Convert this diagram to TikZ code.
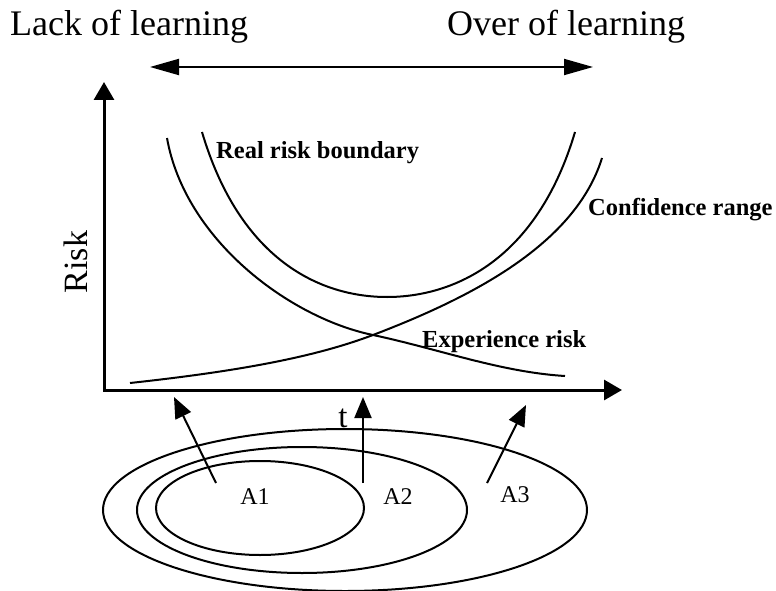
\documentclass[tikz,border=0pt]{standalone}
\usepackage{fontspec}
\setmainfont{Liberation Serif}
\usetikzlibrary{arrows.meta,shapes.geometric}

\begin{document}
\begin{tikzpicture}[x=1pt, y=-1pt,
    axis/.style={line width=3pt, {Triangle[length=18pt, width=20pt]}-{Triangle[length=18pt, width=20pt]}},
    pointer/.style={line width=2pt, -{Triangle[length=21pt, width=17pt]}},
    curve/.style={line width=2pt},
    region/.style={ellipse, draw, line width=2pt, inner sep=0pt},
    tag/.style={font=\fontsize{24}{28}\selectfont},
    curvelabel/.style={font=\fontsize{24.5}{28}\selectfont\bfseries, anchor=base west, inner sep=0pt},
    heading/.style={font=\fontsize{36}{40}\selectfont, anchor=base west, inner sep=0pt}]

  \useasboundingbox (0,0) rectangle (776,591);

  % Headings and the double arrow under them
  \node[heading] (lack) at (10,36) {Lack of learning};
  \node[heading] (over) at (447,36) {Over of learning};
  \coordinate (left) at (150,67);
  \coordinate (right) at (593,67);
  \draw[line width=2pt, {Triangle[length=29pt, width=16pt]}-{Triangle[length=29pt, width=16pt]}] (left) -- (right);

  % Axes
  \coordinate (ytop) at (104,82);
  \coordinate (origin) at (104,390);
  \coordinate (xend) at (622,390);
  \draw[axis] (ytop) -- (origin) -- (xend);
  \node[font=\fontsize{34}{38}\selectfont, rotate=90] (risk) at (76,262) {Risk};
  \node[font=\fontsize{33}{36}\selectfont, anchor=base, inner sep=0pt] (t) at (343,427) {t};

  % Curves
  \draw[curve] (202,132) .. controls (240,260) and (320,297) .. (387,297)
               .. controls (454,297) and (537,260) .. (575,132);
  \draw[curve] (167,138) .. controls (185,240) and (290,318) .. (373,335)
               .. controls (439,349) and (500,372) .. (565,376);
  \draw[curve] (130,383) .. controls (250,370) and (320,355) .. (373,335)
               .. controls (470,298) and (575,245) .. (602,158);

  \node[curvelabel] (real) at (216,158) {Real risk boundary};
  \node[curvelabel] (conf) at (588,215) {Confidence range};
  \node[curvelabel] (exp) at (422,347) {Experience risk};

  % Nested sets
  \node[region, minimum width=484pt, minimum height=162pt] (outer) at (345,510) {};
  \node[region, minimum width=330pt, minimum height=126pt] (middle) at (302,510) {};
  \node[region, minimum width=208pt, minimum height=94pt] (inner) at (260,508) {};
  \node[tag] (a1) at (255,497) {A1};
  \node[tag] (a2) at (398,497) {A2};
  \node[tag] (a3) at (515,495) {A3};

  % Arrows from the sets to the axis
  \coordinate (from1) at (216,483);
  \coordinate (to1) at (174,397);
  \coordinate (from2) at (363,483);
  \coordinate (to2) at (363,397);
  \coordinate (from3) at (487,483);
  \coordinate (to3) at (526,405);
  \draw[pointer] (from1) -- (to1);
  \draw[pointer] (from2) -- (to2);
  \draw[pointer] (from3) -- (to3);
\end{tikzpicture}
\end{document}
